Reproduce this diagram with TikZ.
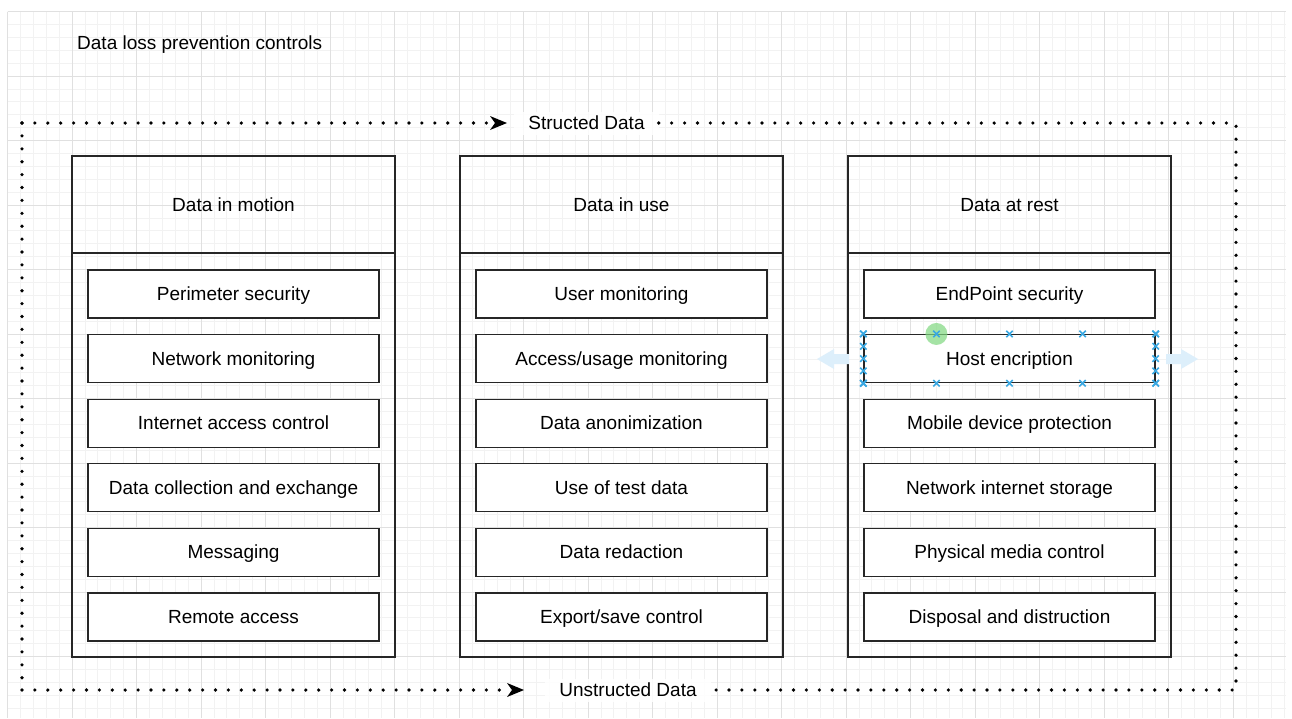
\documentclass[tikz,border=0pt]{standalone}
\usepackage{fontspec}
\setmainfont{Liberation Sans}
\usetikzlibrary{arrows.meta,calc}
\definecolor{gridminor}{HTML}{F2F2F2}
\definecolor{gridmajor}{HTML}{E0E0E0}
\definecolor{selblue}{HTML}{3AA8E2}
\definecolor{hintblue}{HTML}{DDEFFB}
\definecolor{pingreen}{HTML}{7FD87F}
\tikzset{
  txt/.style={text height=15pt, text depth=2pt},
  colbox/.style={draw=black!85, line width=1.3pt, minimum width=323pt, minimum height=501pt, inner sep=0pt},
  headbox/.style={draw=black!85, line width=1.3pt, minimum width=323pt, minimum height=97pt, inner sep=0pt, txt},
  itembox/.style={draw=black!85, line width=1.3pt, fill=white, minimum width=291pt, minimum height=48pt, inner sep=0pt, txt},
  dotline/.style={line width=3.6pt, line cap=round, dash pattern=on 0pt off 12.9pt},
  flowtip/.style={-{Stealth[length=17pt,width=14pt,inset=5pt,line width=0pt]}},
  flowlabel/.style={fill=white, fill opacity=0.85, text opacity=1, inner xsep=14pt, inner ysep=3pt, txt},
  selmark/.pic={\draw[selblue, line width=1.6pt] (-3.2,-3.2) -- (3.2,3.2) (-3.2,3.2) -- (3.2,-3.2);}
}
\begin{document}
\begin{tikzpicture}[x=1pt, y=-1pt, font=\fontsize{19}{23}\selectfont]
\useasboundingbox (0,0) rectangle (1292,718);
\fill[white] (0,0) rectangle (1292,718);

% background grid
\foreach \i in {0,...,99} {
  \pgfmathsetmacro\gx{7.5+12.9*\i}
  \draw[gridminor, line width=0.8pt] (\gx,11.5) -- (\gx,718);
}
\foreach \j in {0,...,54} {
  \pgfmathsetmacro\gy{11.5+12.9*\j}
  \draw[gridminor, line width=0.8pt] (7.5,\gy) -- (1286,\gy);
}
\foreach \i in {0,...,19} {
  \pgfmathsetmacro\gx{7.5+64.5*\i}
  \draw[gridmajor, line width=0.9pt] (\gx,11.5) -- (\gx,718);
}
\foreach \j in {0,...,10} {
  \pgfmathsetmacro\gy{11.5+64.5*\j}
  \draw[gridmajor, line width=0.9pt] (7.5,\gy) -- (1286,\gy);
}

% title
\node[anchor=west, inner sep=0pt, txt] (title) at (77,43) {Data loss prevention controls};

% dotted frame with its two flow labels
\coordinate (tl) at (22,123);
\coordinate (tr) at (1236,123);
\coordinate (br) at (1236,690);
\coordinate (bl) at (22,690);
\coordinate (toptip) at (507,123);
\coordinate (bottip) at (524,690);
\node[flowlabel] (sd) at (586.5,123) {Structed Data};
\node[flowlabel] (ud) at (628,690) {Unstructed Data};
\draw[dotline] (tl) -- (bl);
\draw[dotline, flowtip] (tl) -- (toptip);
\draw[dotline, flowtip] (bl) -- (bottip);
\draw[dotline] (sd.east) -- (tr) -- (br) -- (ud.east);

% column: data in motion
\node[colbox] (mcol) at (233.5,406.5) {};
\node[headbox] (mhead) at (233.5,204.5) {Data in motion};
\foreach \t [count=\k from 0] in {Perimeter security, Network monitoring, Internet access control, Data collection and exchange, Messaging, Remote access}
  \node[itembox] (m\k) at (233.5,{294+64.6*\k}) {\t};

% column: data in use
\node[colbox] (ucol) at (621.5,406.5) {};
\node[headbox] (uhead) at (621.5,204.5) {Data in use};
\foreach \t [count=\k from 0] in {User monitoring, Access/usage monitoring, Data anonimization, Use of test data, Data redaction, Export/save control}
  \node[itembox] (u\k) at (621.5,{294+64.6*\k}) {\t};

% column: data at rest
\node[colbox] (rcol) at (1009.5,406.5) {};
\node[headbox] (rhead) at (1009.5,204.5) {Data at rest};
\foreach \t [count=\k from 0] in {EndPoint security, Host encription, Mobile device protection, Network internet storage, Physical media control, Disposal and distruction}
  \node[itembox] (r\k) at (1009.5,{294+64.6*\k}) {\t};

% selection state of the "Host encription" box
\fill[hintblue] (817,359) -- (834,349) -- (834,354) -- (849,354) -- (849,364) -- (834,364) -- (834,369) -- cycle;
\fill[hintblue] (1198,359) -- (1181,349) -- (1181,354) -- (1166,354) -- (1166,364) -- (1181,364) -- (1181,369) -- cycle;
\fill[pingreen, opacity=0.7] ($(r1.north west)!0.25!(r1.north east)$) circle (11);
\foreach \f in {0,0.25,0.5,0.75,1} {
  \pic at ($(r1.north west)!\f!(r1.north east)$) {selmark};
  \pic at ($(r1.south west)!\f!(r1.south east)$) {selmark};
  \pic at ($(r1.north west)!\f!(r1.south west)$) {selmark};
  \pic at ($(r1.north east)!\f!(r1.south east)$) {selmark};
}
\end{tikzpicture}
\end{document}
